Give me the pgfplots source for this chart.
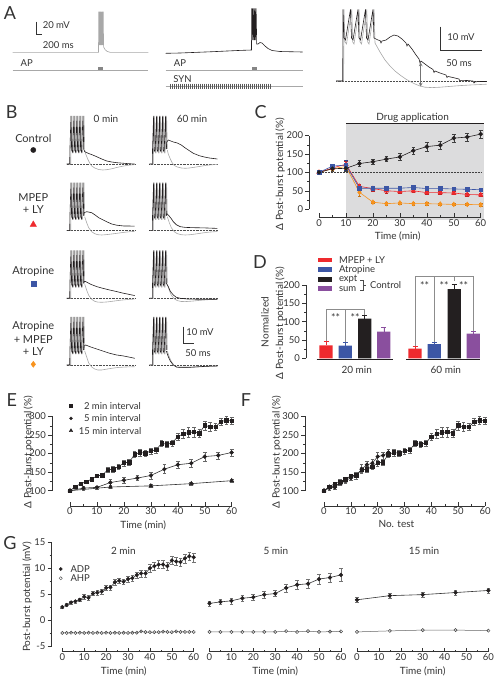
\documentclass[border=0pt]{standalone}
\usepackage{fontspec}
\setmainfont{Lato}
\usepackage{pgfplots}
\pgfplotsset{compat=1.18}
\usepackage{pgfplotstable}
\definecolor{cred}{HTML}{EE2A2E}
\definecolor{cblue}{HTML}{3C56A5}
\definecolor{cpurple}{HTML}{8A4F9E}
\definecolor{corange}{HTML}{F7931E}
\definecolor{cblack}{HTML}{231F20}
\definecolor{cgray}{HTML}{A8A8A8}
\definecolor{cshade}{HTML}{DCDCDD}
\definecolor{txt}{HTML}{333333}
\newcommand{\fs}[1]{\fontsize{#1bp}{#1bp}\selectfont}
\pgfplotsset{
  igor/.style={
    scale only axis, anchor=south west, clip=false, axis on top,
    axis lines*=left, axis line style={draw=none},
    xtick align=inside, ytick align=outside,
    major tick length=4bp, minor tick length=2bp,
    tick style={black!80, line width=0.5bp},
    tick label style={font=\fs{9.5}, text=txt},
    xlabel style={font=\fs{10}, text=txt},
    /pgf/number format/assume math mode=true,
    xticklabel style={inner sep=2bp}, yticklabel style={inner sep=2bp},
  },
  cell/.style={scale only axis, hide axis, clip=false, anchor=south west,
    xmin=0, xmax=68, ymin=-10, ymax=50, width=68bp, height=60bp},
  ebar/.style={error bars/.cd, y dir=both, y explicit,
    error bar style={line width=0.45bp, #1},
    error mark options={rotate=90, mark size=1.8bp, line width=0.45bp, #1}},
}
\pgfplotstableread{
x y
0 0
3 0
3.2 14
4.3 48
4.9 14
5.8 12
7.3 48
7.9 14
8.8 12
10.3 48
10.9 14
11.8 12
13.3 48
13.9 14
14.8 12
16.3 48
17 15
}\spk
\begin{document}
\begin{tikzpicture}
\useasboundingbox (0,0) rectangle (498bp,680bp);
% ================= overlay (pixel coordinates) =================
\begin{axis}[at={(0,0)}, anchor=south west, scale only axis, width=498bp, height=680bp,
  xmin=0, xmax=498, ymin=0, ymax=680, y dir=reverse, hide axis, clip=false]
% ---- panel letters
\node[font=\fs{18}, text=txt] at (axis cs:10,13) {A};
\node[font=\fs{18}, text=txt] at (axis cs:11.7,111.7) {B};
\node[font=\fs{18}, text=txt] at (axis cs:260.7,111.7) {C};
\node[font=\fs{18}, text=txt] at (axis cs:260,261.7) {D};
\node[font=\fs{18}, text=txt] at (axis cs:11.7,400) {E};
\node[font=\fs{18}, text=txt] at (axis cs:246,400) {F};
\node[font=\fs{18}, text=txt] at (axis cs:10,543) {G};
% ---- panel A, left trace
\addplot[cgray, line width=0.6bp] coordinates {(12.7,52.3)(98.5,52.3)(98.7,11.7)(99.2,45)(99.6,11.7)(100.1,45)(100.5,11.7)(101,45)(101.4,11.7)(101.9,45)(102.3,11.7)(102.8,45)(103.2,11.7)(103.6,47)(105,49.5)(107,51.3)(110,52.3)(148.3,52.3)};
\addplot[cgray, line width=0.6bp] coordinates {(12.7,70)(148.3,70)};
\addplot[cgray!80!black, line width=3bp] coordinates {(98.3,68.8)(103.3,68.8)};
\draw[line width=0.8bp, black!80] (axis cs:36,21.7) -- (axis cs:36,34.3) -- (axis cs:41.7,34.3);
\node[font=\fs{9.5}, text=txt] at (axis cs:56.3,25) {20 mV};
\node[font=\fs{9.5}, text=txt] at (axis cs:58.3,45) {200 ms};
\node[font=\fs{9.5}, text=txt] at (axis cs:26.7,62.7) {AP};
% ---- panel A, middle trace
\addplot[cblack, line width=0.6bp] coordinates {(165.7,53.3)(180,53)(195,52.4)(210,51.8)(225,51.1)(240,50.4)(251.5,50)(251.7,8.3)(252.3,40)(252.8,8.3)(253.4,40)(253.9,8.3)(254.5,40)(255,8.3)(255.6,40)(256.1,8.3)(256.7,44)(258,44)(260,42.5)(262,43)(265,46)(268,48.5)(272,50.5)(280,51.5)(302.7,52)};
\addplot[cgray, line width=0.6bp] coordinates {(165.7,70)(302.7,70)};
\addplot[cgray!80!black, line width=3bp] coordinates {(252.3,68.8)(256.7,68.8)};
\addplot[cgray, line width=0.6bp] coordinates {(165.7,86)(302.7,86)};
\addplot[only marks, mark=|, mark size=2.5bp, black!65, mark options={line width=0.45bp}] coordinates {(170,86)(172,86)(174,86)(176,86)(178,86)(180,86)(182,86)(184,86)(186,86)(188,86)(190,86)(192,86)(194,86)(196,86)(198,86)(200,86)(202,86)(204,86)(206,86)(208,86)(210,86)(212,86)(214,86)(216,86)(218,86)(220,86)(222,86)(224,86)(226,86)(228,86)(230,86)(232,86)(234,86)(236,86)(238,86)(240,86)(242,86)(244,86)(246,86)(248,86)(250,86)(252,86)(254,86)(256,86)(258,86)(260,86)(262,86)(264,86)(266,86)(268,86)(270,86)};
\node[font=\fs{9.5}, text=txt] at (axis cs:180,62.7) {AP};
\node[font=\fs{9.5}, text=txt] at (axis cs:182.5,79) {SYN};
% ---- panel A, right overlay
\draw[densely dotted, black!70, line width=0.5bp] (axis cs:336,81) -- (axis cs:486.7,81);
\addplot[cgray, line width=0.6bp] coordinates {(336,81)(343.6,81)(344,9.3)(345,42)(346.5,44)(351.8,9.3)(352.7,42)(354,44)(359.1,9.3)(360,42)(361.5,44)(366.8,9.3)(367.7,42)(369,44)(374.1,9.3)(375,43)(380,52)(385,60)(390,66)(395,71)(400,75)(405,78.5)(410,81.5)(415,84)(420,86)(425,87.2)(432,87.6)(440,87.2)(450,86.4)(460,85.6)(470,85)(486.7,84.2)};
\addplot[cblack, line width=0.6bp] coordinates {(336,81)(342.7,81)(343,9.3)(344,38)(345.5,40)(350.5,9.3)(351.5,38)(353,40)(358,9.3)(359,38)(360.5,40)(365.5,9.3)(366.5,38)(368,40)(373,9.3)(374,38)(378,40)(380,40.5)(381,43)(382,41)(386,40)(390,37)(394,35)(398,36)(402,39)(406,43)(407,46)(408,44)(412,49)(416,55)(419,59)(420,63)(421,61)(425,64)(429,67)(433,69.5)(434,72.5)(435,71)(440,73)(446,75)(447,77.5)(448,76.5)(453,77.5)(459,79)(460,81.5)(461,80.3)(467,80.5)(473,81)(474,83)(475,81.8)(480,81.5)(486.7,81.5)};
\draw[black!55, line width=0.7bp, <->, >=stealth] (axis cs:420.7,62.5) -- (axis cs:420.7,86.5);
\draw[line width=0.8bp, black!80] (axis cs:440.7,26.7) -- (axis cs:440.7,50) -- (axis cs:481.7,50);
\node[font=\fs{9.5}, text=txt] at (axis cs:461,37.5) {10 mV};
\node[font=\fs{9.5}, text=txt] at (axis cs:459,63.3) {50 ms};
% ---- panel B labels
\node[font=\fs{10}, text=txt] at (axis cs:106,119.3) {0 min};
\node[font=\fs{10}, text=txt] at (axis cs:192,119.3) {60 min};
\node[font=\fs{11}, text=txt] at (axis cs:33.3,138.3) {Control};
\node[font=\fs{11}, text=txt] at (axis cs:33.3,197.3) {MPEP};
\node[font=\fs{11}, text=txt] at (axis cs:33.3,209.3) {+ LY};
\node[font=\fs{11}, text=txt] at (axis cs:33.3,271.7) {Atropine};
\node[font=\fs{11}, text=txt] at (axis cs:33.3,326) {Atropine};
\node[font=\fs{11}, text=txt] at (axis cs:33.3,339.3) {+ MPEP};
\node[font=\fs{11}, text=txt] at (axis cs:33.3,351.7) {+ LY};
\addplot[only marks, mark=*, mark size=2.6bp, cblack] coordinates {(33.3,150)};
\addplot[only marks, mark=triangle*, mark size=3.6bp, cred] coordinates {(33.3,224.5)};
\addplot[only marks, mark=square*, mark size=2.4bp, cblue] coordinates {(33.3,283.3)};
\addplot[only marks, mark=diamond*, mark size=3bp, corange] coordinates {(33.3,364.3)};
\draw[line width=0.8bp, black!80] (axis cs:183.3,326.7) -- (axis cs:183.3,343.3) -- (axis cs:194,343.3);
\node[font=\fs{9.5}, text=txt] at (axis cs:200,331.7) {10 mV};
\node[font=\fs{9.5}, text=txt] at (axis cs:198,352.7) {50 ms};
% ---- panel C text
\node[font=\fs{10}, text=txt] at (axis cs:412.7,117.3) {Drug application};
\node[rotate=90, font=\fs{10}, text=txt] at (axis cs:280,174) {Δ Post-burst potential (\%)};
% ---- panel D legend and text
\addplot[line width=4.6bp, cred] coordinates {(318.3,260)(332,260)};
\addplot[line width=4.6bp, cblue] coordinates {(318.3,269.5)(332,269.5)};
\addplot[line width=4.6bp, cblack] coordinates {(318.3,279.3)(332,279.3)};
\addplot[line width=4.6bp, cpurple] coordinates {(318.3,288.7)(332,288.7)};
\node[font=\fs{9.5}, text=txt, anchor=west] at (axis cs:335.5,260) {MPEP + LY};
\node[font=\fs{9.5}, text=txt, anchor=west] at (axis cs:335.5,269.5) {Atropine};
\node[font=\fs{9.5}, text=txt, anchor=west] at (axis cs:335.5,279.3) {expt};
\node[font=\fs{9.5}, text=txt, anchor=west] at (axis cs:335.5,288.7) {sum};
\draw[black!70, line width=0.5bp] (axis cs:360,280.7) -- (axis cs:363.3,280.7) -- (axis cs:363.3,290) -- (axis cs:360,290);
\draw[black!70, line width=0.5bp] (axis cs:363.3,285.3) -- (axis cs:366,285.3);
\node[font=\fs{9.5}, text=txt, anchor=west] at (axis cs:366.5,285.3) {Control};
\node[rotate=90, font=\fs{10}, text=txt] at (axis cs:265,322) {Normalized};
\node[rotate=90, font=\fs{10}, text=txt] at (axis cs:280,323) {Δ Post-burst potential (\%)};
\node[font=\fs{10}, text=txt] at (axis cs:356.7,369.8) {20 min};
\node[font=\fs{10}, text=txt] at (axis cs:445.8,369.8) {60 min};
% ---- panel E/F labels and legend
\node[rotate=90, font=\fs{10}, text=txt] at (axis cs:28.3,452) {Δ Post-burst potential (\%)};
\node[rotate=90, font=\fs{10}, text=txt] at (axis cs:276.7,452) {Δ Post-burst potential (\%)};
\addplot[only marks, mark=square*, mark size=1.5bp, cblack] coordinates {(71,405.7)};
\addplot[only marks, mark=*, mark size=1.5bp, cblack] coordinates {(71,418.3)};
\addplot[only marks, mark=triangle*, mark size=2bp, cblack] coordinates {(71,430.7)};
\node[font=\fs{9.5}, text=txt, anchor=west] at (axis cs:80.5,405.7) {2 min interval};
\node[font=\fs{9.5}, text=txt, anchor=west] at (axis cs:80.5,418.3) {5 min interval};
\node[font=\fs{9.5}, text=txt, anchor=west] at (axis cs:75.3,430.7) {15 min interval};
% ---- panel G labels and legend
\node[rotate=90, font=\fs{10}, text=txt] at (axis cs:27,597) {Post-burst potential (mV)};
\node[font=\fs{10}, text=txt] at (axis cs:123.3,550.7) {2 min};
\node[font=\fs{10}, text=txt] at (axis cs:275.8,550.7) {5 min};
\node[font=\fs{10}, text=txt] at (axis cs:424,550.7) {15 min};
\addplot[only marks, mark=*, mark size=1.6bp, cblack] coordinates {(60.7,569)};
\addplot[only marks, mark=o, mark size=1.6bp, black!70] coordinates {(60.7,578.3)};
\node[font=\fs{9.5}, text=txt, anchor=west] at (axis cs:67,569) {ADP};
\node[font=\fs{9.5}, text=txt, anchor=west] at (axis cs:67,578.3) {AHP};
\end{axis}
% ================= panel B trace cells =================
% row 1 col 1
\begin{axis}[cell, at={(66.7bp,506bp)}]
\draw[densely dotted, black!70, line width=0.45bp] (axis cs:0,0) -- (axis cs:68,0);
\addplot[cgray, line width=0.6bp] table[x expr=\thisrow{x}+1, y=y] {\spk};
\addplot[cgray, line width=0.6bp] coordinates {(18,14)(19,10)(21,5)(23,1)(25,-2)(28,-4)(32,-5.5)(36,-6)(40,-5.7)(45,-4.8)(50,-3.5)(56,-2.2)(62,-1.2)(68,-0.6)};
\addplot[cblack, line width=0.6bp] table[x=x, y=y] {\spk};
\addplot[cblack, line width=0.6bp] coordinates {(17,15)(18,12.3)(22,10.5)(26,9)(30,7.3)(35,5)(40,3)(45,2)(50,1.3)(56,0.8)(62,0.3)(68,0)};
\end{axis}
% row 1 col 2
\begin{axis}[cell, at={(149.3bp,506bp)}]
\draw[densely dotted, black!70, line width=0.45bp] (axis cs:0,0) -- (axis cs:68,0);
\addplot[cgray, line width=0.6bp] table[x expr=\thisrow{x}+1, y=y] {\spk};
\addplot[cgray, line width=0.6bp] coordinates {(18,14)(19,10)(21,5)(23,1)(25,-1.5)(28,-3)(32,-4)(36,-4.3)(40,-4)(45,-3.3)(50,-2.5)(56,-1.5)(62,-0.8)(68,-0.5)};
\addplot[cblack, line width=0.6bp] table[x=x, y=y] {\spk};
\addplot[cblack, line width=0.6bp] coordinates {(17,15)(17.5,22)(19,24)(24,22)(28,21)(32,19)(36,16)(39,14)(44,10.7)(50,8.3)(55,7)(60,6)(64,5.5)(68,5)};
\end{axis}
% row 2 col 1
\begin{axis}[cell, at={(66.7bp,439.3bp)}]
\draw[densely dotted, black!70, line width=0.45bp] (axis cs:0,0) -- (axis cs:68,0);
\addplot[cgray, line width=0.6bp] table[x expr=\thisrow{x}+1, y=y] {\spk};
\addplot[cgray, line width=0.6bp] coordinates {(18,14)(20,8)(22,3)(25,-1)(28,-3)(31,-4)(35,-4.3)(39,-4)(45,-3.3)(51,-2.5)(57,-1.7)(63,-1)(68,-0.7)};
\addplot[cblack, line width=0.6bp] table[x=x, y=y] {\spk};
\addplot[cblack, line width=0.6bp] coordinates {(17,15)(17.5,18)(20,19)(25,18)(28,16)(32,13)(37,10.5)(41,8.5)(45,6.7)(50,5.5)(57,4.7)(62,4.7)(68,4.5)};
\end{axis}
% row 2 col 2
\begin{axis}[cell, at={(149.3bp,439.3bp)}]
\draw[densely dotted, black!70, line width=0.45bp] (axis cs:0,0) -- (axis cs:68,0);
\addplot[cgray, line width=0.6bp] table[x expr=\thisrow{x}+1, y=y] {\spk};
\addplot[cgray, line width=0.6bp] coordinates {(18,14)(20,8)(22,3)(25,-1)(28,-3)(32,-4)(36,-4.3)(41,-4)(47,-3.2)(53,-2.3)(59,-1.5)(68,-0.8)};
\addplot[cblack, line width=0.6bp] table[x=x, y=y] {\spk};
\addplot[cblack, line width=0.6bp] coordinates {(17,15)(17.5,17)(19,15.7)(22,12)(24,9)(27,6)(31,4)(36,3.3)(45,3)(55,2.8)(68,2.3)};
\end{axis}
% row 3 col 1
\begin{axis}[cell, at={(66.7bp,371.7bp)}]
\draw[densely dotted, black!70, line width=0.45bp] (axis cs:0,0) -- (axis cs:68,0);
\addplot[cgray, line width=0.6bp] table[x expr=\thisrow{x}+1, y=y] {\spk};
\addplot[cgray, line width=0.6bp] coordinates {(18,14)(20,8)(22,3)(25,-1)(28,-3)(31,-3.8)(35,-4)(41,-3.6)(47,-2.8)(53,-2)(61,-1.2)(68,-0.8)};
\addplot[cblack, line width=0.6bp] table[x=x, y=y] {\spk};
\addplot[cblack, line width=0.6bp] coordinates {(17,15)(17.5,17)(19,16.7)(24,14)(30,11.7)(36,10)(43,8.3)(50,6.7)(57,5)(63,3.8)(68,2.7)};
\end{axis}
% row 3 col 2
\begin{axis}[cell, at={(149.3bp,371.7bp)}]
\draw[densely dotted, black!70, line width=0.45bp] (axis cs:0,0) -- (axis cs:68,0);
\addplot[cgray, line width=0.6bp] table[x expr=\thisrow{x}+1, y=y] {\spk};
\addplot[cgray, line width=0.6bp] coordinates {(18,14)(20,8)(22,3)(25,-0.5)(28,-2.3)(32,-3.2)(36,-3.3)(43,-2.8)(51,-2)(59,-1.4)(68,-1)};
\addplot[cblack, line width=0.6bp] table[x=x, y=y] {\spk};
\addplot[cblack, line width=0.6bp] coordinates {(17,15)(19,11.7)(21,7)(24,3.3)(27,1)(31,0)(38,-0.7)(50,-1)(68,-1)};
\end{axis}
% row 4 col 1
\begin{axis}[cell, at={(66.7bp,305bp)}]
\draw[densely dotted, black!70, line width=0.45bp] (axis cs:0,0) -- (axis cs:68,0);
\addplot[cgray, line width=0.6bp] table[x expr=\thisrow{x}+1, y=y] {\spk};
\addplot[cgray, line width=0.6bp] coordinates {(18,14)(20,8)(22,2)(25,-2)(28,-4)(31,-5)(35,-5)(39,-4.3)(45,-3.3)(51,-2.5)(59,-2)(68,-1.7)};
\addplot[cblack, line width=0.6bp] table[x=x, y=y] {\spk};
\addplot[cblack, line width=0.6bp] coordinates {(17,15)(17.5,19)(19,20)(24,18)(30,16)(36,14)(43,11.7)(50,10)(57,9)(63,7.8)(68,6.7)};
\end{axis}
% row 4 col 2
\begin{axis}[cell, at={(149.3bp,305bp)}]
\draw[densely dotted, black!70, line width=0.45bp] (axis cs:0,0) -- (axis cs:68,0);
\addplot[cgray, line width=0.6bp] table[x expr=\thisrow{x}+1, y=y] {\spk};
\addplot[cgray, line width=0.6bp] coordinates {(18,14)(20,8)(22,3.5)(25,-0.5)(28,-2.3)(31,-2.6)(41,-2.4)(51,-1.8)(68,-1.1)};
\addplot[cblack, line width=0.6bp] table[x=x, y=y] {\spk};
\addplot[cblack, line width=0.6bp] coordinates {(17,14)(19,8.3)(21,4)(24,0)(27,-2)(30,-2.3)(40,-2.3)(50,-1.7)(60,-1.2)(68,-1)};
\end{axis}
% ================= panel C =================
\begin{axis}[igor, at={(309.3bp,462.7bp)}, width=176.8bp, height=93.5bp,
  xmin=-3.6, xmax=62, ymin=-22, ymax=232,
  xtick={0,10,...,60}, ytick={0,50,...,200}, minor x tick num=1, minor y tick num=1,
  xlabel={Time (min)}]
\fill[cshade] (axis cs:10,-29) rectangle (axis cs:61.3,232);
\draw[line width=1.2bp, cblack] (axis cs:10,232) -- (axis cs:61.3,232);
\draw[black!80, line width=0.5bp] (axis cs:-3.6,0) -- (axis cs:-3.6,200);
\draw[black!80, line width=0.5bp] (axis cs:0,-22) -- (axis cs:60,-22);
\draw[densely dotted, black!75, line width=0.5bp] (axis cs:0,100) -- (axis cs:60,100);
\addplot[corange, line width=0.6bp, mark=diamond*, mark size=2.3bp, ebar=corange!80!black] table[x=x, y=y, y error=e] {
x y e
0 100 2
5 110 4
10 116 8
15 46 10
20 19 3
25 15 3
30 17 3
35 15 3
40 15 3
45 14 3
50 13 3
55 13 3
60 12 3
};
\addplot[cred, line width=0.6bp, mark=triangle*, mark size=2.5bp, ebar=cred!80!black] table[x=x, y=y, y error=e] {
x y e
0 100 2
5 112 4
10 122 8
15 62 6
20 56 7
25 50 6
30 48 5
35 50 5
40 45 5
45 45 4
50 44 4
55 40 4
60 39 4
};
\addplot[cblue, line width=0.6bp, mark=square*, mark size=1.8bp, ebar=cblue!80!black] table[x=x, y=y, y error=e] {
x y e
0 100 2
5 117 4
10 120 14
15 57 8
20 57 5
25 57 4
30 57 4
35 59 4
40 56 4
45 56 4
50 55 4
55 54 4
60 53 4
};
\addplot[cblack, line width=0.6bp, mark=*, mark size=1.9bp, ebar=black!75] table[x=x, y=y, y error=e] {
x y e
0 100 2
5 110 6
10 111 8
15 124 8
20 129 8
25 136 7
30 142 10
35 159 10
40 170 12
45 174 10
50 193 12
55 196 10
60 204 10
};
\end{axis}
% ================= panel D =================
\begin{axis}[igor, at={(306bp,320.6bp)}, width=176bp, height=83.56bp,
  xmin=306, xmax=482, ymin=-3, ymax=225,
  xtick=\empty, ytick={0,50,...,200}, minor y tick num=1]
\draw[black!80, line width=0.5bp] (axis cs:306,0) -- (axis cs:306,200);
\addplot[ybar, bar shift=0pt, bar width=13.3, fill=cred, draw=none,
  error bars/.cd, y dir=plus, y explicit, error bar style={cred, line width=0.6bp},
  error mark options={rotate=90, mark size=2.5bp, cred, line width=0.6bp}]
  coordinates {(326,35.5) +- (0,10.5) (415,26.4) +- (0,7.2)};
\addplot[ybar, bar shift=0pt, bar width=13.3, fill=cblue, draw=none,
  error bars/.cd, y dir=plus, y explicit, error bar style={cblue, line width=0.6bp},
  error mark options={rotate=90, mark size=2.5bp, cblue, line width=0.6bp}]
  coordinates {(345.3,34.5) +- (0,9.1) (434.3,39) +- (0,5.5)};
\addplot[ybar, bar shift=0pt, bar width=13.3, fill=cblack, draw=none,
  error bars/.cd, y dir=plus, y explicit, error bar style={cblack, line width=0.6bp},
  error mark options={rotate=90, mark size=2.5bp, cblack, line width=0.6bp}]
  coordinates {(364.7,108) +- (0,9) (454.2,189) +- (0,13)};
\addplot[ybar, bar shift=0pt, bar width=13.3, fill=cpurple, draw=none,
  error bars/.cd, y dir=plus, y explicit, error bar style={cpurple, line width=0.6bp},
  error mark options={rotate=90, mark size=2.5bp, cpurple, line width=0.6bp}]
  coordinates {(383.8,72.7) +- (0,11.8) (473.3,67) +- (0,6.6)};
\draw[line width=1.4bp, cblack] (axis cs:316.7,-2.7) -- (axis cs:392.7,-2.7);
\draw[line width=1.4bp, cblack] (axis cs:406,-2.7) -- (axis cs:480,-2.7);
\draw[black!45, line width=0.5bp] (axis cs:326,46.4) -- (axis cs:326,133.7) -- (axis cs:364.5,133.7) -- (axis cs:364.5,117.5);
\draw[black!45, line width=0.5bp] (axis cs:345.3,43.7) -- (axis cs:345.3,133.7);
\draw[black!45, line width=0.5bp] (axis cs:415,33.6) -- (axis cs:415,222.6) -- (axis cs:473.3,222.6) -- (axis cs:473.3,73.6);
\draw[black!45, line width=0.5bp] (axis cs:434.3,44.5) -- (axis cs:434.3,222.6);
\draw[black!45, line width=0.5bp] (axis cs:454.2,222.6) -- (axis cs:454.2,210);
\node[font=\fs{10.5}, text=txt, anchor=north] at (axis cs:335.6,131) {**};
\node[font=\fs{10.5}, text=txt, anchor=north] at (axis cs:355,131) {**};
\node[font=\fs{10.5}, text=txt, anchor=north] at (axis cs:424.6,220) {**};
\node[font=\fs{10.5}, text=txt, anchor=north] at (axis cs:444.2,220) {**};
\node[font=\fs{10.5}, text=txt, anchor=north] at (axis cs:463.7,220) {**};
\end{axis}
% ================= panel E =================
\begin{axis}[igor, at={(52bp,174.1bp)}, width=182.4bp, height=89.4bp,
  xmin=-6.68, xmax=61, ymin=59, ymax=300,
  xtick={0,10,...,60}, ytick={100,150,...,300}, minor x tick num=1, minor y tick num=1,
  xlabel={Time (min)}]
\draw[black!80, line width=0.5bp] (axis cs:-6.68,100) -- (axis cs:-6.68,300);
\draw[black!80, line width=0.5bp] (axis cs:0,59) -- (axis cs:60,59);
\addplot[black!80, line width=0.6bp, mark=triangle*, mark size=2.2bp, mark options={cblack}, ebar=black!60] table[x=x, y=y, y error=e] {
x y e
0 100 2
15 110 3
30 113 4
45 119 3
60 127 4
};
\addplot[black!80, line width=0.6bp, mark=*, mark size=1.8bp, mark options={cblack}, ebar=black!60] table[x=x, y=y, y error=e] {
x y e
0 100 2
5 107 5
10 109 4
15 122 8
20 128 8
25 134 7
30 141 10
35 158 12
40 170 10
45 174 10
50 192 12
55 195 10
60 203 10
};
\addplot[black!80, line width=0.6bp, mark=square*, mark size=1.7bp, mark options={cblack}, ebar=black!60] table[x=x, y=y, y error=e] {
x y e
0 100 2
2 111 3
4 119 4
6 124 4
8 131 5
10 140 5
12 142 5
14 156 6
16 158 8
18 165 7
20 175 8
22 177 8
24 198 8
26 203 10
28 201 8
30 207 8
32 210 8
34 228 8
36 225 8
38 229 8
40 246 10
42 253 12
44 257 14
46 258 14
48 255 10
50 276 12
52 272 12
54 272 10
56 286 10
58 290 12
60 288 10
};
\end{axis}
% ================= panel F =================
\begin{axis}[igor, at={(305bp,174.1bp)}, width=182.7bp, height=89.4bp,
  xmin=-7.08, xmax=61, ymin=59, ymax=300,
  xtick={0,10,...,60}, ytick={100,150,...,300}, minor x tick num=1, minor y tick num=1,
  xlabel={No. test}]
\draw[black!80, line width=0.5bp] (axis cs:-7.08,100) -- (axis cs:-7.08,300);
\draw[black!80, line width=0.5bp] (axis cs:0,59) -- (axis cs:60,59);
\addplot[black!80, line width=0.6bp, mark=triangle*, mark size=2.2bp, mark options={cblack}, ebar=black!60] table[x=x, y=y, y error=e] {
x y e
0 100 2
2 110 3
4 113 4
6 119 3
8 127 4
};
\addplot[black!80, line width=0.6bp, mark=*, mark size=1.8bp, mark options={cblack}, ebar=black!60] table[x=x, y=y, y error=e] {
x y e
0 100 2
2 107 5
4 109 4
6 122 8
8 128 8
10 134 7
12 141 10
14 158 12
16 170 10
18 174 10
20 192 12
22 195 10
24 203 10
};
\addplot[black!80, line width=0.6bp, mark=square*, mark size=1.7bp, mark options={cblack}, ebar=black!60] table[x=x, y=y, y error=e] {
x y e
0 100 2
2 111 3
4 119 4
6 124 4
8 131 5
10 140 5
12 142 5
14 156 6
16 158 8
18 165 7
20 175 8
22 177 8
24 198 8
26 203 10
28 201 8
30 207 8
32 210 8
34 228 8
36 225 8
38 229 8
40 246 10
42 253 12
44 257 14
46 258 14
48 255 10
50 276 12
52 272 12
54 272 10
56 286 10
58 290 12
60 288 10
};
\end{axis}
% ================= panel G (2 min) =================
\begin{axis}[igor, at={(51.7bp,28.4bp)}, width=144.2bp, height=109.3bp,
  xmin=-4.84, xmax=61, ymin=-6.1, ymax=15,
  xtick={0,10,...,60}, ytick={-5,0,...,15}, minor x tick num=1, minor y tick num=1,
  xlabel={Time (min)}]
\draw[black!80, line width=0.5bp] (axis cs:-4.84,-5) -- (axis cs:-4.84,15);
\draw[black!80, line width=0.5bp] (axis cs:0,-6.1) -- (axis cs:60,-6.1);
\addplot[black!60, line width=0.5bp, mark=o, mark size=1.6bp, mark options={black!75, fill=white}] table[x=x, y=y] {
x y
0 -2.5
2 -2.5
4 -2.45
6 -2.5
8 -2.45
10 -2.5
12 -2.45
14 -2.5
16 -2.45
18 -2.5
20 -2.45
22 -2.5
24 -2.45
26 -2.5
28 -2.45
30 -2.5
32 -2.45
34 -2.45
36 -2.2
38 -2.35
40 -2.35
42 -2.35
44 -2.35
46 -2.25
48 -2.3
50 -2.35
52 -2.2
54 -2.3
56 -2.3
58 -2.3
60 -2.3
};
\addplot[black!80, line width=0.6bp, mark=*, mark size=1.7bp, mark options={cblack}, ebar=black!55] table[x=x, y=y, y error=e] {
x y e
0 2.5 0.2
2 2.9 0.25
4 3.4 0.3
6 3.6 0.3
8 3.9 0.35
10 4.5 0.4
12 4.3 0.4
14 5.1 0.4
16 5.3 0.45
18 5.5 0.45
20 6.2 0.5
22 6.3 0.5
24 7.3 0.5
26 7.6 0.5
28 7.4 0.55
30 7.9 0.55
32 8.1 0.6
34 8.7 0.6
36 9.0 0.65
38 9.0 0.65
40 10.0 0.7
42 10.4 0.7
44 10.7 0.75
46 10.7 0.75
48 10.4 0.75
50 11.5 0.8
52 11.3 0.8
54 11.2 0.8
56 11.9 0.85
58 12.3 0.85
60 12.1 0.85
};
\end{axis}
% ================= panel G (5 min) =================
\begin{axis}[igor, at={(207.3bp,28.4bp)}, width=135.8bp, height=109.3bp,
  xmin=-1, xmax=61, ymin=-6.1, ymax=15,
  xtick={0,10,...,60}, ytick=\empty, minor x tick num=1,
  xlabel={Time (min)}]
\draw[black!80, line width=0.5bp] (axis cs:0,-6.1) -- (axis cs:60,-6.1);
\addplot[black!60, line width=0.5bp, mark=o, mark size=1.6bp, mark options={black!75, fill=white}] table[x=x, y=y] {
x y
0 -2.3
5 -2.3
10 -2.3
15 -2.3
20 -2.3
25 -2.3
30 -2.3
35 -2.15
40 -2.3
45 -2.15
50 -2.3
55 -2.25
60 -2.2
};
\addplot[black!80, line width=0.6bp, mark=*, mark size=1.8bp, mark options={cblack}, ebar=black!55] table[x=x, y=y, y error=e] {
x y e
0 3.2 0.45
5 3.5 0.55
10 3.7 0.6
15 4.2 0.5
20 4.4 0.5
25 4.9 0.6
30 5.1 0.6
35 6.2 0.8
40 6.8 0.9
45 7.0 0.8
50 7.9 1.0
55 8.2 0.9
60 8.7 1.3
};
\end{axis}
% ================= panel G (15 min) =================
\begin{axis}[igor, at={(354.8bp,28.4bp)}, width=135.8bp, height=109.3bp,
  xmin=-1, xmax=61, ymin=-6.1, ymax=15,
  xtick={0,10,...,60}, ytick=\empty, minor x tick num=1,
  xlabel={Time (min)}]
\draw[black!80, line width=0.5bp] (axis cs:0,-6.1) -- (axis cs:60,-6.1);
\addplot[black!60, line width=0.5bp, mark=o, mark size=1.6bp, mark options={black!75, fill=white}] table[x=x, y=y] {
x y
0 -2.3
15 -2.1
30 -1.95
45 -1.95
60 -2.05
};
\addplot[black!80, line width=0.6bp, mark=*, mark size=1.8bp, mark options={cblack}, ebar=black!55] table[x=x, y=y, y error=e] {
x y e
0 3.9 0.5
15 4.7 0.5
30 4.9 0.5
45 5.3 0.5
60 5.7 0.5
};
\end{axis}
\end{tikzpicture}
\end{document}
